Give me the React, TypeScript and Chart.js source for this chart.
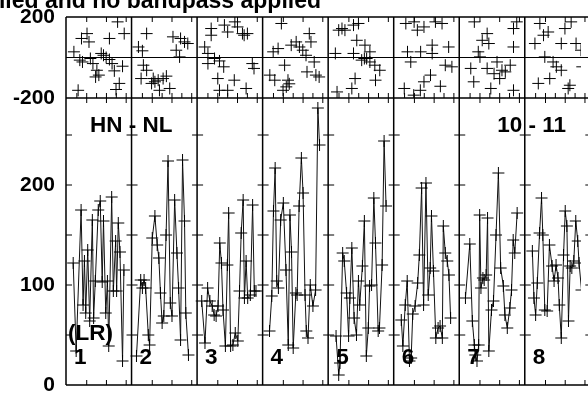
import React, { useEffect, useRef } from 'react';
import { Chart, registerables } from 'chart.js';

Chart.register(...registerables);

// ---------- text ----------
const TITLE = 'Phase calibration applied and no bandpass applied';
const BASELINE_NOTE = 'HN - NL';
const CHANNEL_NOTE = '10 - 11';
const POL_NOTE = '(LR)';
const PANEL_LABELS = ['1', '2', '3', '4', '5', '6', '7', '8'];

// ---------- axes ----------
const PANEL_W = 6.643; // width of one panel in time units
const X_MAX = 52.2; // visible extent of the time axis
const TOP_MIN = -200;
const TOP_MAX = 200;
const BOT_MIN = 0;
const BOT_MAX = 287;
const TOP_LABELS = [-200, 200];
const BOT_LABELS = [0, 100, 200];
const BOT_MINOR = [50, 100, 150, 200, 250];
const TICKS_FINE = [1.1, 2.1, 3.1, 4.1, 5.1, 6.1];
const TICKS_COARSE = [2.1, 4.1, 6.1];

// ---------- amplitude (lower panel) ----------
const ampT1 = [0.73, 1.03, 1.53, 1.73, 1.87, 2.0, 2.2, 2.4, 2.67, 2.8, 2.97, 3.27, 3.47, 3.67, 3.8, 4.03, 4.2, 4.33, 4.63, 4.8, 5.03, 5.13, 5.3, 5.47, 5.73, 5.87];
const ampV1 = [122, 34, 175, 80, 124, 72, 135, 64, 165, 67, 104, 175, 184, 103, 164, 72, 104, 39, 188, 94, 144, 94, 162, 133, 24, 115];
const ampT2 = [0.5, 0.93, 1.1, 1.27, 1.43, 1.7, 1.83, 2.1, 2.37, 2.6, 2.77, 2.93, 3.1, 3.27, 3.5, 3.7, 3.93, 4.1, 4.37, 4.6, 4.77, 4.97, 5.17, 5.37, 5.5, 5.77];
const ampV2 = [29, 105, 97, 105, 97, 50, 40, 147, 169, 140, 127, 92, 62, 69, 150, 224, 82, 69, 185, 132, 97, 45, 225, 164, 72, 30];
const ampT3 = [0.47, 0.8, 1.07, 1.3, 1.53, 1.73, 1.93, 2.13, 2.3, 2.47, 2.63, 2.87, 3.07, 3.2, 3.4, 3.63, 3.87, 4.13, 4.3, 4.47, 4.67, 4.8, 4.97, 5.13, 5.4, 5.63, 5.8, 5.97];
const ampV3 = [84, 42, 97, 84, 79, 70, 69, 79, 142, 122, 75, 39, 120, 172, 39, 40, 52, 44, 94, 152, 185, 87, 124, 87, 90, 180, 94, 94];
const ampT4 = [0.7, 0.93, 1.1, 1.27, 1.43, 1.6, 1.83, 2.1, 2.37, 2.6, 2.77, 2.93, 3.1, 3.37, 3.5, 3.7, 3.93, 4.1, 4.3, 4.43, 4.6, 4.83, 5.1, 5.37, 5.6, 5.77];
const ampV4 = [54, 89, 174, 217, 104, 97, 165, 182, 115, 40, 170, 133, 37, 92, 90, 179, 227, 192, 90, 54, 47, 100, 79, 95, 277, 240];
const ampT5 = [0.8, 1.07, 1.2, 1.47, 1.63, 1.87, 2.07, 2.2, 2.4, 2.63, 2.87, 3.07, 3.2, 3.47, 3.67, 3.87, 4.07, 4.2, 4.4, 4.63, 4.8, 5.07, 5.2, 5.47, 5.67, 5.87];
const ampV5 = [49, 10, 22, 132, 124, 92, 49, 87, 137, 67, 50, 104, 80, 119, 164, 29, 57, 99, 100, 187, 142, 54, 57, 120, 244, 179];
const ampT6 = [0.77, 0.93, 1.17, 1.37, 1.6, 1.77, 1.93, 2.17, 2.43, 2.6, 2.83, 3.03, 3.27, 3.5, 3.7, 3.83, 4.03, 4.27, 4.5, 4.7, 4.93, 5.03, 5.23, 5.43, 5.6, 5.77];
const ampV6 = [65, 39, 80, 104, 24, 27, 71, 79, 102, 130, 197, 80, 202, 90, 117, 169, 114, 47, 57, 59, 47, 159, 132, 124, 110, 67];
const ampT7 = [0.63, 1.07, 1.33, 1.53, 1.63, 1.8, 1.97, 2.07, 2.2, 2.4, 2.53, 2.73, 2.87, 3.0, 3.27, 3.47, 3.73, 3.97, 4.2, 4.47, 4.63, 4.87, 5.13, 5.3, 5.47, 5.63, 5.87];
const ampV7 = [87, 141, 64, 40, 30, 24, 40, 170, 97, 107, 105, 110, 167, 34, 75, 84, 150, 212, 117, 99, 70, 57, 77, 95, 145, 132, 172];
const ampT8 = [0.77, 0.93, 1.1, 1.27, 1.5, 1.7, 1.83, 2.03, 2.27, 2.5, 2.77, 2.97, 3.17, 3.37, 3.5, 3.7, 3.93, 4.1, 4.27, 4.43, 4.6, 4.77, 4.97, 5.17, 5.37, 5.5, 5.75, 5.95];
const ampV8 = [134, 87, 70, 102, 152, 187, 150, 75, 74, 140, 119, 104, 120, 107, 80, 47, 130, 174, 159, 64, 119, 117, 124, 164, 144, 122, 95, 130];

// ---------- residuals (upper panel) ----------
const resT1 = [1.23, 1.57, 2.13, 2.33, 0.8, 1.4, 1.67, 2.47, 2.73, 3.13, 3.33, 3.0, 3.8, 4.07, 4.4, 4.67, 4.4, 5.23, 5.9, 4.9, 5.73, 5.4, 5.07, 3.57];
const resV1 = [-162, 94, 118, 77, 28, -13, -22, -5, -30, -63, -87, -96, 11, 0, -10, -30, 94, 176, 118, -66, -43, -128, -158, 20];
const resT2 = [1.53, 0.7, 1.1, 4.2, 4.97, 5.37, 5.7, 4.53, 4.87, 1.2, 1.53, 0.97, 2.2, 2.7, 3.2, 3.53, 2.03, 2.83, 3.87, 2.37];
const resV2 = [118, 52, 33, 102, 94, 77, 69, 36, 3, -38, -63, -104, -104, -112, -104, -92, -128, -162, -153, -120];
const resT3 = [1.43, 2.77, 3.1, 3.83, 4.1, 4.6, 5.1, 1.43, 0.77, 1.1, 1.77, 2.27, 1.1, 2.7, 2.1, 2.27, 3.1, 3.77, 4.97, 5.6, 5.77, 4.77];
const resV3 = [143, 160, 126, 176, 151, 118, 118, 110, 52, 20, -5, -17, -30, -46, -104, -162, -162, -112, -153, -30, -54, 110];
const resT4 = [1.9, 1.07, 1.57, 2.9, 0.73, 1.23, 2.07, 2.4, 2.7, 2.23, 3.4, 3.73, 4.07, 4.73, 4.9, 4.4, 5.23, 4.5, 5.4, 5.73, 2.57];
const resV4 = [168, 28, 44, 61, -87, -112, -162, -145, -130, -38, 77, 52, 36, 118, 77, 11, -22, -71, -87, -96, -112];
const resT5 = [1.4, 1.7, 2.57, 3.07, 1.07, 2.9, 3.73, 0.73, 2.57, 4.23, 3.4, 3.9, 4.23, 4.73, 5.23, 2.73, 2.4, 0.9, 4.8, 3.67];
const resV5 = [143, 135, 160, 168, 135, 85, 61, 20, 20, 28, -13, -5, -22, -38, -63, -104, -153, -170, -112, -5];
const resT6 = [1.23, 2.07, 2.4, 3.07, 4.23, 4.9, 1.4, 2.73, 3.9, 3.9, 5.57, 1.73, 5.23, 5.9, 3.73, 3.07, 4.73, 1.07, 2.7, 2.03];
const resV6 = [168, 176, 135, 151, 176, 168, 28, 28, 61, 20, 52, -22, -38, -46, -87, -120, -142, -153, -162, -186];
const resT7 = [1.53, 5.83, 5.5, 2.83, 2.33, 3.0, 5.5, 1.93, 2.1, 1.17, 2.83, 3.83, 4.33, 4.67, 5.17, 4.1, 1.47, 3.2, 5.5, 3.53];
const resV7 = [176, 176, 143, 118, 85, 69, 52, 28, 3, -54, -54, -22, -63, -71, -38, -104, -120, -153, -162, -80];
const resT8 = [1.53, 4.7, 2.37, 4.07, 1.9, 1.03, 3.7, 5.2, 5.7, 2.03, 2.87, 3.2, 3.7, 2.53, 1.37, 4.57, 4.4, 5.83];
const resV8 = [168, 176, 126, 143, 110, 69, 69, 69, 36, 3, -22, -46, -63, -104, -128, -137, -153, -46];

const AMP_T = [ampT1, ampT2, ampT3, ampT4, ampT5, ampT6, ampT7, ampT8];
const AMP_V = [ampV1, ampV2, ampV3, ampV4, ampV5, ampV6, ampV7, ampV8];
const RES_T = [resT1, resT2, resT3, resT4, resT5, resT6, resT7, resT8];
const RES_V = [resV1, resV2, resV3, resV4, resV5, resV6, resV7, resV8];

const FONT_FAMILY = '"Liberation Sans", Arial, Helvetica, sans-serif';

const framePlugin = {
  id: 'panelFrame',
  beforeDatasetsDraw(chart: any) {
    const { ctx, chartArea: ca, scales } = chart;
    const xs = scales.x;
    const yt = scales.yTop;
    const yb = scales.y;
    const top = yt.getPixelForValue(TOP_MAX);
    const split = yt.getPixelForValue(TOP_MIN);
    const bottom = yb.getPixelForValue(BOT_MIN);
    const zero = yt.getPixelForValue(0);
    ctx.save();
    ctx.strokeStyle = '#000';
    ctx.lineWidth = 1.5;
    ctx.beginPath();
    [top, split, bottom].forEach((y) => {
      ctx.moveTo(ca.left, y);
      ctx.lineTo(ca.right + 20, y);
    });
    ctx.stroke();
    ctx.lineWidth = 1;
    ctx.beginPath();
    ctx.moveTo(ca.left, zero);
    ctx.lineTo(ca.right + 20, zero);
    ctx.stroke();
    ctx.lineWidth = 1.5;
    const n = PANEL_LABELS.length;
    ctx.beginPath();
    for (let i = 0; i <= n; i++) {
      const x = xs.getPixelForValue(i * PANEL_W);
      ctx.moveTo(x, top);
      ctx.lineTo(x, bottom);
    }
    ctx.stroke();
    // y ticks on every divider (lower panel)
    ctx.lineWidth = 1;
    ctx.beginPath();
    for (let i = 0; i <= n; i++) {
      const x = xs.getPixelForValue(i * PANEL_W);
      BOT_MINOR.forEach((v) => {
        const y = yb.getPixelForValue(v);
        ctx.moveTo(i === 0 ? x : x - 5, y);
        ctx.lineTo(x + 6, y);
      });
    }
    // x ticks
    for (let i = 0; i < n; i++) {
      const base = i * PANEL_W;
      TICKS_COARSE.forEach((t) => {
        const x = xs.getPixelForValue(base + t);
        ctx.moveTo(x, top);
        ctx.lineTo(x, top + 5);
        ctx.moveTo(x, split);
        ctx.lineTo(x, split + 5);
        ctx.moveTo(x, bottom);
        ctx.lineTo(x, bottom - 5);
      });
      TICKS_FINE.forEach((t) => {
        const x = xs.getPixelForValue(base + t);
        ctx.moveTo(x, split);
        ctx.lineTo(x, split - 5);
      });
    }
    ctx.stroke();
    ctx.restore();
  },
  afterDatasetsDraw(chart: any) {
    const { ctx, scales } = chart;
    const xs = scales.x;
    ctx.save();
    ctx.fillStyle = '#000';
    ctx.textBaseline = 'alphabetic';
    ctx.font = `bold 23px ${FONT_FAMILY}`;
    ctx.textAlign = 'right';
    ctx.fillText(TITLE, 321, 7.5);
    ctx.textAlign = 'left';
    ctx.font = `bold 22.5px ${FONT_FAMILY}`;
    ctx.fillText(BASELINE_NOTE, xs.getPixelForValue(0) + 24, 132);
    ctx.fillText(CHANNEL_NOTE, xs.getPixelForValue(6 * PANEL_W) + 38, 132);
    ctx.fillText(POL_NOTE, xs.getPixelForValue(0) + 2, 340);
    PANEL_LABELS.forEach((lab, i) => {
      ctx.fillText(lab, xs.getPixelForValue(i * PANEL_W) + 8, 364);
    });
    ctx.restore();
  },
};

export default function App() {
  const ref = useRef<HTMLCanvasElement | null>(null);

  useEffect(() => {
    document.body.style.margin = '0';
    const canvas = ref.current;
    if (!canvas) return;

    const datasets: any[] = [];
    AMP_T.forEach((ts, i) => {
      datasets.push({
        type: 'line',
        label: `amp ${PANEL_LABELS[i]}`,
        yAxisID: 'y',
        data: ts.map((t, j) => ({ x: i * PANEL_W + t, y: AMP_V[i][j] })),
        borderColor: '#111',
        borderWidth: 1,
        pointStyle: 'cross',
        pointRadius: 6,
        pointBorderColor: '#000',
        pointBorderWidth: 1,
        fill: false,
        tension: 0,
      });
    });
    RES_T.forEach((ts, i) => {
      datasets.push({
        type: 'scatter',
        label: `res ${PANEL_LABELS[i]}`,
        yAxisID: 'yTop',
        data: ts.map((t, j) => ({ x: i * PANEL_W + t, y: RES_V[i][j] })),
        showLine: false,
        pointStyle: 'cross',
        pointRadius: 6,
        pointBorderColor: '#000',
        pointBorderWidth: 1,
      });
    });

    const tickFont = { family: FONT_FAMILY, size: 21, weight: 'bold' as const, lineHeight: 0.8 };
    const hiddenGrid = { display: false, drawTicks: true, tickLength: 11 };

    const chart = new Chart(canvas, {
      type: 'line',
      data: { datasets },
      options: {
        animation: false,
        responsive: false,
        devicePixelRatio: 1,
        layout: { padding: { left: 0, right: 0, top: 17, bottom: 9 } },
        plugins: { legend: { display: false }, tooltip: { enabled: false }, title: { display: false } },
        scales: {
          x: { type: 'linear', min: 0, max: X_MAX, display: false },
          yTop: {
            type: 'linear',
            position: 'left',
            stack: 'panels',
            stackWeight: 81,
            weight: 2,
            min: TOP_MIN,
            max: TOP_MAX,
            grid: hiddenGrid,
            border: { display: false },
            ticks: {
              stepSize: 200,
              padding: 0,
              color: '#000',
              font: tickFont,
              callback: (v: any) => (TOP_LABELS.includes(Number(v)) ? String(v) : ''),
            },
            afterFit: (s: any) => {
              s.width = 66;
            },
          },
          y: {
            type: 'linear',
            position: 'left',
            stack: 'panels',
            stackWeight: 287,
            weight: 1,
            min: BOT_MIN,
            max: BOT_MAX,
            grid: hiddenGrid,
            border: { display: false },
            ticks: {
              stepSize: 50,
              padding: 0,
              color: '#000',
              font: tickFont,
              callback: (v: any) => (BOT_LABELS.includes(Number(v)) ? String(v) : ''),
            },
            afterFit: (s: any) => {
              s.width = 66;
            },
          },
        } as any,
      },
      plugins: [framePlugin],
    });

    return () => chart.destroy();
  }, []);

  return (
    <canvas
      ref={ref}
      width={588}
      height={394}
      style={{ position: 'fixed', left: 0, top: 0, width: 588, height: 394, background: '#fff' }}
    />
  );
}
